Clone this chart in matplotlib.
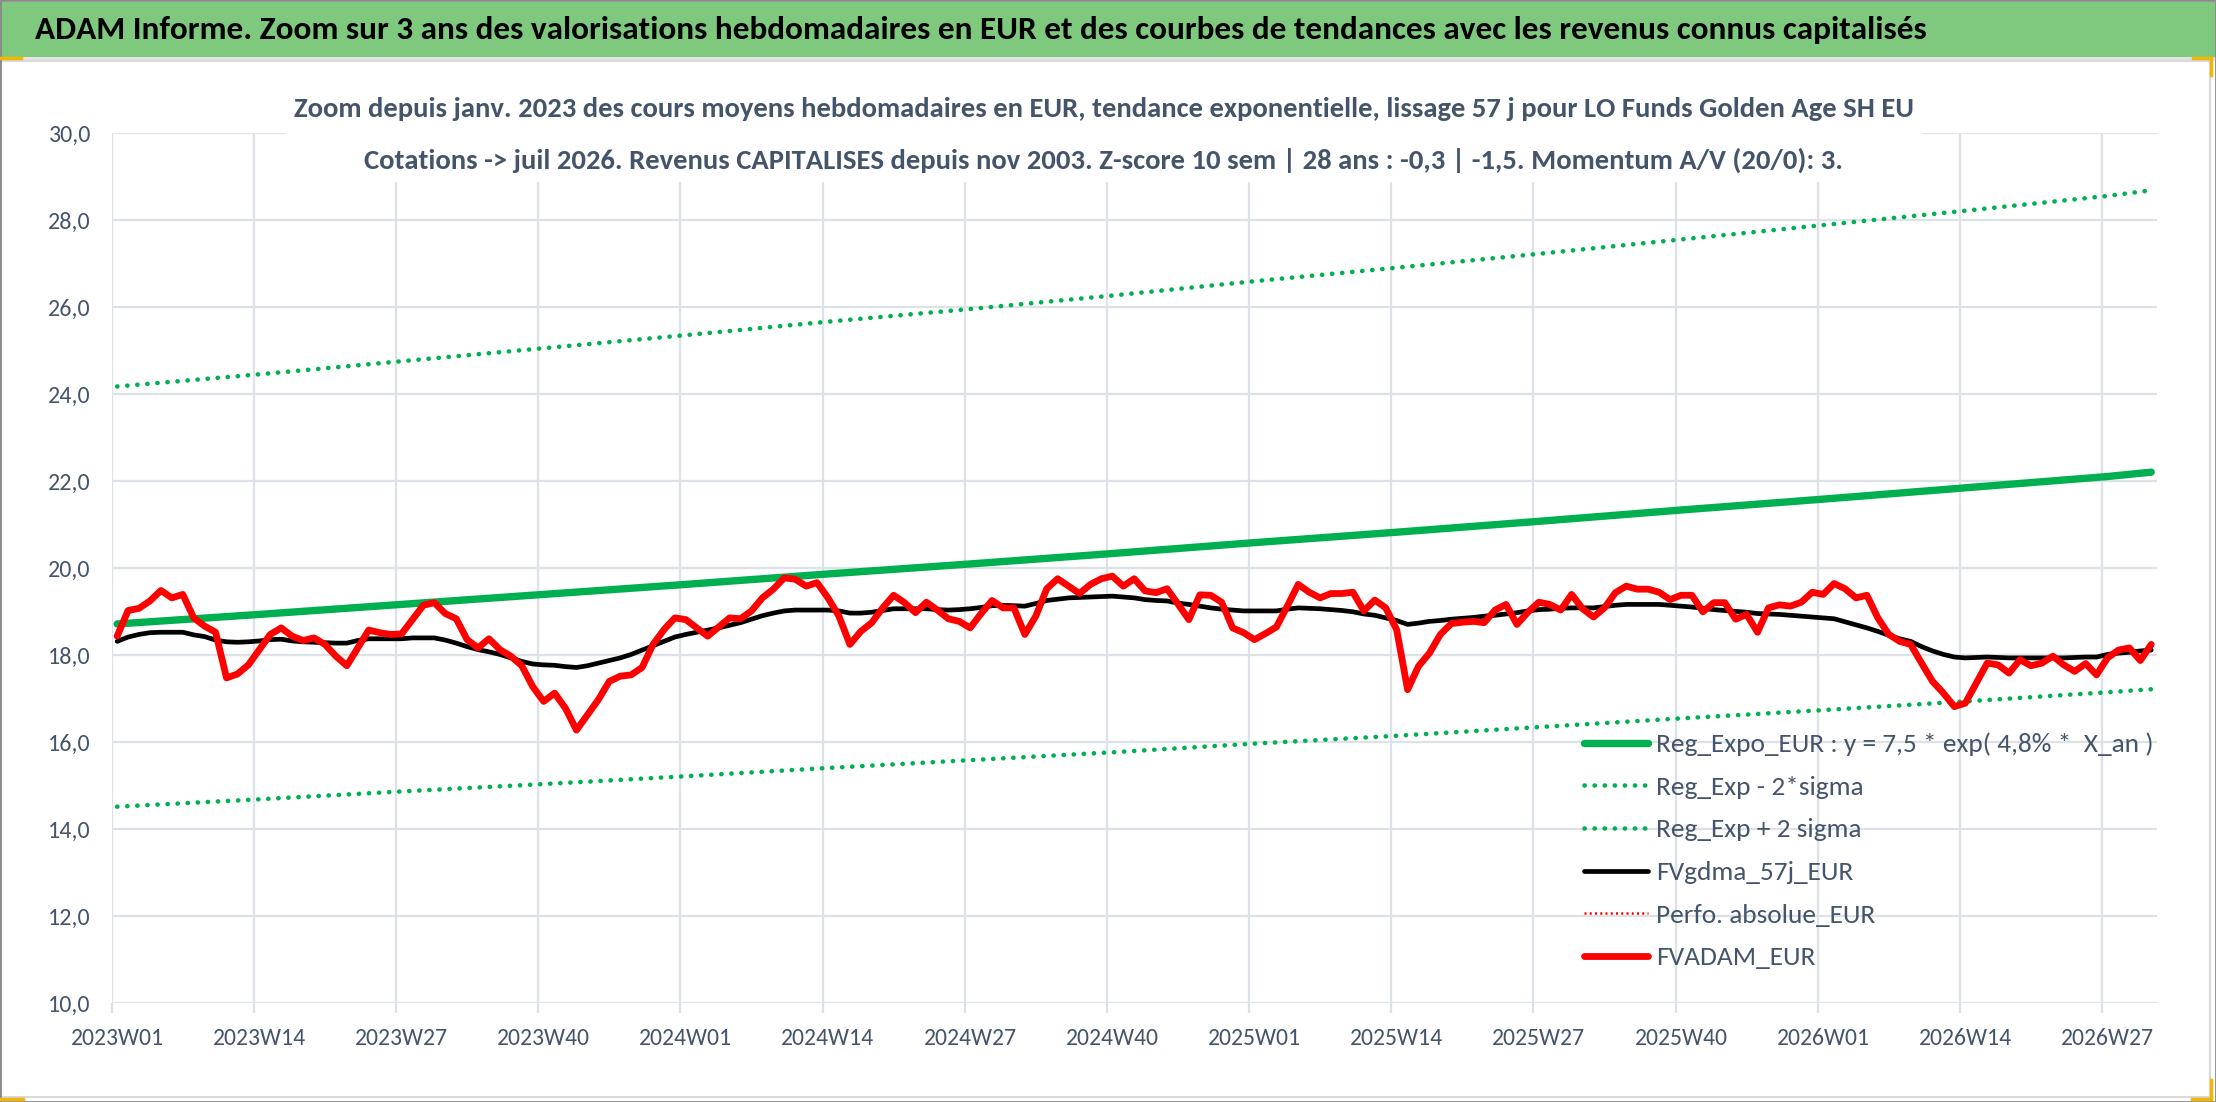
import matplotlib
matplotlib.use('Agg')
import matplotlib.pyplot as plt
from matplotlib import font_manager
from matplotlib.patches import Rectangle

# weekly categories 2023W01 .. 2026W31
weeks = ([f"2023W{w:02d}" for w in range(1, 53)] + [f"2024W{w:02d}" for w in range(1, 53)]
         + [f"2025W{w:02d}" for w in range(1, 53)] + [f"2026W{w:02d}" for w in range(1, 32)])

# FVADAM_EUR (weekly average prices)
fvadam = [
    18.44, 19.03, 19.08, 19.25, 19.49, 19.32, 19.40, 18.86, 18.67, 18.53, 17.48, 17.57, 17.78,
    18.13, 18.48, 18.63, 18.44, 18.34, 18.40, 18.25, 17.98, 17.76, 18.17, 18.58, 18.52, 18.48,
    18.49, 18.82, 19.15, 19.21, 18.96, 18.84, 18.36, 18.17, 18.38, 18.13, 17.98, 17.76, 17.28,
    16.94, 17.13, 16.78, 16.28, 16.63, 16.98, 17.40, 17.52, 17.55, 17.72, 18.25, 18.59, 18.86,
    18.82, 18.63, 18.44, 18.65, 18.86, 18.84, 19.02, 19.32, 19.52, 19.78, 19.75, 19.59, 19.67,
    19.32, 18.90, 18.25, 18.55, 18.75, 19.09, 19.38, 19.21, 18.98, 19.22, 19.04, 18.84, 18.78,
    18.63, 18.96, 19.26, 19.09, 19.09, 18.48, 18.90, 19.53, 19.76, 19.59, 19.42, 19.63, 19.76,
    19.82, 19.59, 19.76, 19.48, 19.44, 19.53, 19.18, 18.82, 19.39, 19.38, 19.22, 18.63, 18.52,
    18.36, 18.50, 18.65, 19.13, 19.63, 19.45, 19.32, 19.42, 19.42, 19.45, 19.02, 19.27, 19.09,
    18.59, 17.21, 17.75, 18.05, 18.48, 18.73, 18.76, 18.78, 18.75, 19.04, 19.17, 18.71, 18.99,
    19.22, 19.17, 19.04, 19.40, 19.07, 18.88, 19.09, 19.44, 19.59, 19.52, 19.52, 19.45, 19.28,
    19.38, 19.38, 19.00, 19.21, 19.21, 18.83, 18.94, 18.53, 19.09, 19.16, 19.13, 19.22, 19.45,
    19.40, 19.65, 19.53, 19.32, 19.38, 18.86, 18.48, 18.32, 18.25, 17.82, 17.40, 17.13, 16.82,
    16.90, 17.36, 17.82, 17.78, 17.59, 17.90, 17.76, 17.82, 17.98, 17.78, 17.63, 17.81, 17.55,
    17.94, 18.12, 18.17, 17.88, 18.25,
]

# FVgdma_57j_EUR (57 day smoothing)
fvgdma = [
    18.32, 18.42, 18.48, 18.52, 18.53, 18.53, 18.53, 18.47, 18.43, 18.35, 18.31, 18.30, 18.31,
    18.33, 18.36, 18.37, 18.33, 18.31, 18.30, 18.29, 18.28, 18.28, 18.34, 18.38, 18.38, 18.38,
    18.38, 18.40, 18.40, 18.40, 18.35, 18.28, 18.20, 18.13, 18.08, 18.02, 17.94, 17.86, 17.80,
    17.78, 17.77, 17.74, 17.72, 17.76, 17.82, 17.88, 17.94, 18.02, 18.12, 18.22, 18.32, 18.42,
    18.48, 18.53, 18.58, 18.63, 18.69, 18.75, 18.83, 18.91, 18.97, 19.02, 19.04, 19.04, 19.04,
    19.04, 19.02, 18.97, 18.97, 18.99, 19.03, 19.07, 19.07, 19.07, 19.07, 19.05, 19.04, 19.05,
    19.07, 19.10, 19.14, 19.15, 19.14, 19.13, 19.19, 19.26, 19.29, 19.32, 19.33, 19.34, 19.35,
    19.36, 19.34, 19.32, 19.28, 19.26, 19.25, 19.20, 19.17, 19.13, 19.09, 19.06, 19.04, 19.02,
    19.02, 19.02, 19.02, 19.06, 19.09, 19.08, 19.07, 19.05, 19.03, 19.00, 18.95, 18.92, 18.86,
    18.80, 18.71, 18.74, 18.78, 18.80, 18.83, 18.85, 18.87, 18.90, 18.92, 18.95, 18.98, 19.02,
    19.05, 19.06, 19.08, 19.09, 19.09, 19.09, 19.12, 19.15, 19.17, 19.17, 19.17, 19.17, 19.15,
    19.13, 19.11, 19.08, 19.05, 19.03, 19.01, 18.99, 18.96, 18.95, 18.94, 18.92, 18.90, 18.88,
    18.86, 18.84, 18.77, 18.70, 18.63, 18.55, 18.46, 18.38, 18.32, 18.20, 18.10, 18.02, 17.96,
    17.94, 17.95, 17.96, 17.95, 17.94, 17.94, 17.94, 17.94, 17.94, 17.94, 17.95, 17.96, 17.96,
    18.02, 18.05, 18.07, 18.10, 18.12,
]

# exponential trend and +/- 2 sigma bands, read at the gridline weeks
trend_weeks = [0, 13, 26, 39, 52, 65, 78, 91, 104, 117, 130, 143, 156, 169, 182, 186]
reg_expo = [18.72, 18.94, 19.17, 19.40, 19.63, 19.87, 20.10, 20.34, 20.59, 20.83, 21.08, 21.34,
            21.59, 21.85, 22.11, 22.21]
reg_plus = [24.18, 24.46, 24.76, 25.06, 25.36, 25.67, 25.96, 26.27, 26.60, 26.91, 27.23, 27.56,
            27.89, 28.22, 28.56, 28.69]
reg_minus = [14.52, 14.69, 14.87, 15.04, 15.22, 15.41, 15.59, 15.77, 15.97, 16.15, 16.35, 16.55,
             16.74, 16.94, 17.15, 17.22]

y_ticks = [10, 12, 14, 16, 18, 20, 22, 24, 26, 28, 30]

banner = ("ADAM Informe. Zoom sur 3 ans des valorisations hebdomadaires en EUR et des courbes "
          "de tendances avec les revenus connus capitalisés")
sub1 = ("Zoom depuis janv. 2023 des cours moyens hebdomadaires en EUR, tendance exponentielle, "
        "lissage 57 j pour LO Funds Golden Age SH EU")
sub2 = ("Cotations -> juil 2026. Revenus CAPITALISES depuis nov 2003. Z-score 10 sem | 28 ans : "
        "-0,3 | -1,5. Momentum A/V (20/0): 3.")

W, H = 2216, 1102
GREEN = '#00b050'
RED = '#ff0000'
GRID = '#dde1e8'
TXT = '#44546a'

names = {f.name for f in font_manager.fontManager.ttflist}
FONT = next((f for f in ['Carlito', 'Liberation Sans Narrow', 'Lato'] if f in names), 'DejaVu Sans')
plt.rcParams['font.family'] = [FONT, 'DejaVu Sans']


def fx(px):
    return px / W


def fy(py):
    return 1 - py / H


fig = plt.figure(figsize=(W / 100, H / 100), dpi=100)
fig.patch.set_facecolor('white')
rend = fig.canvas.get_renderer()


def fit(s, width, weight='normal'):
    t = fig.text(0, 0, s, fontsize=20, fontweight=weight)
    w = t.get_window_extent(rend).width
    t.remove()
    return 20 * width / w


def text_h(s, size):
    t = fig.text(0, 0, s, fontsize=size)
    h = t.get_window_extent(rend).height
    t.remove()
    return h


# frame pieces of the spreadsheet chart
fig.add_artist(Rectangle((0, fy(57)), 1, fy(2) - fy(57), transform=fig.transFigure,
                         facecolor='#7fc97e', edgecolor='none', zorder=0))
fig.add_artist(Rectangle((0, fy(61)), 1, fy(57) - fy(61), transform=fig.transFigure,
                         facecolor='#e3e3e3', edgecolor='none', zorder=0))
fig.add_artist(Rectangle((fx(1), fy(1097)), fx(2210) - fx(1), fy(61) - fy(1097),
                         transform=fig.transFigure, facecolor='none', edgecolor='#d9d9d9',
                         lw=1.5, zorder=0))
fig.add_artist(Rectangle((0, 0), 1, 1, transform=fig.transFigure, facecolor='none',
                         edgecolor='#8a8a8a', lw=2, zorder=5))

ax = fig.add_axes([fx(111.7), fy(1003.3), fx(2156.7) - fx(111.7), fy(133.3) - fy(1003.3)])
ax.set_facecolor('none')

x = [i + 0.5 for i in range(len(fvadam))]
xt = [w + 0.5 for w in trend_weeks]

dots = (0, (0.05, 2.15))
ax.plot(xt, reg_expo, color=GREEN, lw=5.3, solid_capstyle='round', zorder=3,
        label='Reg_Expo_EUR : y = 7,5 * exp( 4,8% *  X_an )')
ax.plot(xt, reg_minus, color=GREEN, lw=3.3, linestyle=dots, dash_capstyle='round',
        zorder=3, label='Reg_Exp - 2*sigma')
ax.plot(xt, reg_plus, color=GREEN, lw=3.3, linestyle=dots, dash_capstyle='round',
        zorder=3, label='Reg_Exp + 2 sigma')
ax.plot(x, fvgdma, color='black', lw=3.4, solid_joinstyle='round', solid_capstyle='round',
        zorder=4, label='FVgdma_57j_EUR')
ax.plot(x, fvadam, color=RED, lw=1.8, linestyle=(0, (0.8, 1.3)), zorder=4,
        label='Perfo. absolue_EUR')
ax.plot(x, fvadam, color=RED, lw=4.9, solid_joinstyle='round', solid_capstyle='round',
        zorder=5, label='FVADAM_EUR')

ax.set_xlim(0, len(fvadam))
ax.set_ylim(10, 30)
ax.set_yticks(y_ticks)
ax.set_yticklabels([f"{v:.1f}".replace('.', ',') for v in y_ticks])
major = list(range(0, len(fvadam), 13))
ax.set_xticks(major)
ax.set_xticklabels([''] * len(major))
ax.set_xticks([m + 0.5 for m in major], minor=True)
ax.set_xticklabels([weeks[m] for m in major], minor=True)

ax.grid(True, which='major', color=GRID, lw=1.6, zorder=0)
ax.set_axisbelow(True)
for s in ax.spines.values():
    s.set_visible(False)

ax.tick_params(axis='y', length=0, pad=15, labelsize=fit('28,0', 37) * 1.15, labelcolor=TXT)
ax.tick_params(axis='x', which='major', length=7, width=1.6, color=GRID, direction='out')
ax.tick_params(axis='x', which='minor', length=0, pad=18, labelsize=fit('2023W01', 83) * 1.12,
               labelcolor=TXT)

# legend inside the plot, lower right
leg_fs = fit('Reg_Expo_EUR : y = 7,5 * exp( 4,8% *  X_an )', 478) * 1.04
fs_px = leg_fs * 100 / 72
row_h = text_h('lp', leg_fs)
ax.legend(loc='upper left', bbox_to_anchor=(fx(1584), fy(744 - row_h / 2)),
          bbox_transform=fig.transFigure, frameon=False, borderpad=0, borderaxespad=0,
          handlelength=64 / fs_px, handletextpad=8 / fs_px,
          labelspacing=(42.5 - row_h) / fs_px, fontsize=leg_fs, labelcolor=TXT)

# white title box over the top of the plot area
fig.add_artist(Rectangle((fx(285), fy(182)), fx(1923) - fx(285), fy(66) - fy(182),
                         transform=fig.transFigure, facecolor='white', edgecolor='none', zorder=1))

fig.text(fx(35), fy(30), banner, fontsize=fit(banner, 1895, 'bold'), fontweight='bold',
         color='black', ha='left', va='center', zorder=6)
fig.text(fx(1104), fy(109), sub1, fontsize=fit(sub1, 1620, 'bold'), fontweight='bold',
         color=TXT, ha='center', va='center', zorder=6)
fig.text(fx(1104), fy(160), sub2, fontsize=fit(sub2, 1481, 'bold'), fontweight='bold',
         color=TXT, ha='center', va='center', zorder=6)

# yellow selection handles at the chart corners
yl = '#f2b705'
for (a, b, c, d) in [(0, 58, 21, 58), (2193, 58, 2211, 58), (2211, 58, 2211, 75),
                     (0, 1099, 23, 1099), (2192, 1099, 2211, 1099), (2211, 1080, 2211, 1099)]:
    fig.add_artist(plt.Line2D([fx(a), fx(c)], [fy(b), fy(d)], transform=fig.transFigure,
                              color=yl, lw=2.5, zorder=6))

fig.savefig('out.png', dpi=100, facecolor='white')
